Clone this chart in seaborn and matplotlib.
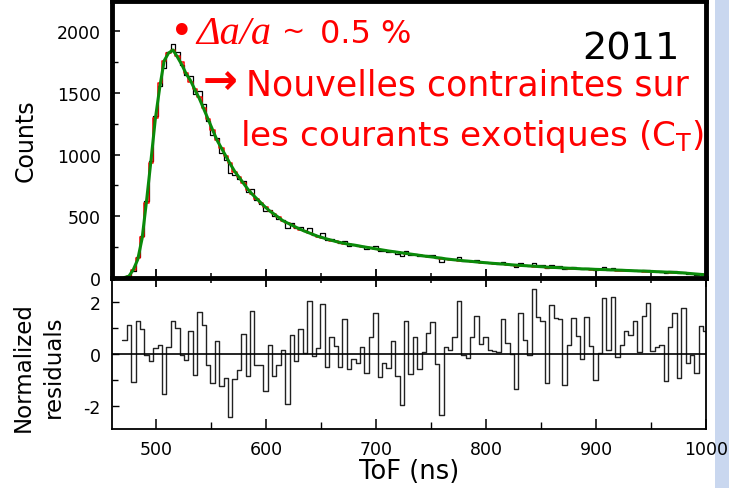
import numpy as np
import pandas as pd
import matplotlib
matplotlib.use("Agg")
import matplotlib.pyplot as plt
import seaborn as sns
from matplotlib.patches import Rectangle
from matplotlib.ticker import MultipleLocator

# ---- data (4 ns bins starting at 469.4 ns) ----
bin_start = 469.4
bin_width = 4.0

counts_data = [
    5, 19, 59, 167, 341, 624, 946, 1309, 1556, 1700,
    1833, 1900, 1833, 1726, 1645, 1635, 1493, 1516, 1410, 1271,
    1163, 1135, 1013, 960, 852, 838, 800, 790, 698, 723,
    633, 598, 539, 550, 499, 481, 467, 405, 443, 405,
    413, 379, 403, 350, 341, 361, 307, 317, 301, 280,
    302, 263, 265, 256, 259, 238, 253, 261, 217, 219,
    211, 221, 197, 176, 217, 183, 198, 176, 180, 185,
    186, 160, 131, 158, 152, 155, 168, 139, 135, 141,
    146, 131, 131, 122, 119, 117, 127, 114, 107, 90,
    118, 105, 98, 120, 107, 103, 77, 103, 98, 95,
    70, 82, 90, 82, 72, 85, 74, 62, 69, 86,
    68, 83, 63, 66, 68, 66, 67, 57, 67, 68,
    54, 53, 52, 41, 54, 55, 38, 52, 36, 35,
    28, 35, 30]

counts_sim = [
    3, 15, 62, 160, 330, 610, 930, 1300, 1580, 1760,
    1820, 1845, 1800, 1750, 1660, 1590, 1530, 1470, 1380, 1290,
    1200, 1120, 1050, 985, 930, 862, 815, 772, 715, 682,
    640, 606, 578, 540, 515, 494, 462, 444, 430, 408,
    392, 380, 362, 352, 335, 325, 318, 303, 296, 286,
    278, 272, 266, 263, 252, 248, 240, 236, 229, 224,
    216, 212, 207, 202, 197, 192, 186, 183, 176, 172,
    167, 163, 158, 153, 149, 145, 141, 137, 135, 131,
    127, 124, 121, 118, 115, 112, 110, 107, 104, 101,
    99, 96, 95, 92, 90, 88, 85, 83, 82, 80,
    78, 76, 75, 73, 72, 70, 68, 67, 66, 64,
    63, 62, 60, 59, 58, 56, 55, 53, 52, 50,
    49, 48, 46, 45, 44, 42, 41, 39, 37, 35,
    33, 31, 28]

fit_curve = [
    4, 15, 68, 150, 322, 625, 950, 1290, 1545, 1760,
    1823, 1848, 1792, 1730, 1655, 1600, 1525, 1455, 1370, 1287,
    1202, 1118, 1054, 990, 926, 866, 818, 770, 721, 680,
    644, 609, 574, 543, 518, 491, 464, 446, 428, 411,
    394, 379, 365, 351, 337, 327, 316, 306, 296, 288,
    280, 273, 268, 262, 255, 249, 243, 237, 231, 225,
    219, 214, 209, 204, 199, 194, 189, 184, 179, 174,
    170, 165, 161, 155, 151, 147, 144, 140, 137, 134,
    130, 127, 124, 121, 118, 116, 113, 110, 107, 104,
    102, 100, 98, 96, 93, 91, 88, 86, 85, 83,
    81, 79, 78, 76, 74, 73, 72, 70, 69, 68,
    67, 65, 64, 63, 61, 60, 58, 57, 56, 54,
    53, 51, 50, 48, 47, 45, 44, 41, 38, 35,
    32, 29, 26]

residuals = [
    0.54, 1.09, -1.10, 1.24, 0.96, -0.05, -0.29, 0.23, 0.32, -1.55,
    0.24, 1.24, 0.99, -0.04, -0.23, 0.87, -0.83, 1.59, 1.09, -0.44,
    -1.12, 0.50, -1.26, -0.94, -2.42, -0.96, -0.64, 0.74, -0.86, 1.64,
    -0.44, -0.45, -1.44, 0.32, -0.85, -0.45, 0.13, -1.92, 0.73, -0.30,
    0.94, 0.02, 2.01, -0.08, 0.22, 1.90, -0.51, 0.63, 0.29, -0.50,
    1.32, -0.58, -0.20, -0.36, 0.24, -0.73, 0.63, 1.56, -0.90, -0.37,
    -0.55, 0.47, -0.86, -1.97, 1.26, -0.78, 0.63, -0.59, 0.06, 0.81,
    1.22, -0.40, -2.38, 0.24, 0.12, 0.64, 2.01, -0.06, -0.17, 0.62,
    1.44, 0.38, 0.62, 0.13, 0.09, 0.06, 1.33, 0.40, 0.00, -1.38,
    1.58, 0.51, -0.04, 2.47, 1.41, 1.24, -1.12, 1.86, 1.38, 1.33,
    -1.19, 0.32, 1.38, 0.68, -0.22, 1.40, 0.28, -1.00, 0.02, 2.15,
    0.15, 2.18, -0.13, 0.35, 0.86, 0.73, 1.24, 0.06, 1.44, 1.95,
    0.09, 0.26, 0.32, -1.05, 1.03, 1.55, -0.94, 1.74, -0.35, -0.04,
    -0.73, 1.05, 0.86]

x_range = (460, 1000)

# ---- tables for seaborn ----
edges = bin_start + bin_width * np.arange(len(counts_data) + 1)
centers = edges[:-1] + bin_width / 2

def step_frame(values, lead_zero=True):
    xs = list(edges)
    ys = list(values) + [values[-1]]
    if lead_zero:
        xs = [x_range[0]] + xs
        ys = [0] + ys
    return pd.DataFrame({"tof": xs, "y": ys})

df_data = step_frame(counts_data)
df_sim = step_frame(counts_sim)
df_fit = pd.DataFrame({"tof": centers, "y": fit_curve})
df_res = step_frame(residuals, lead_zero=False)

# ---- figure ----
sns.set_theme(style="white")
plt.rcParams["font.family"] = ["DejaVu Sans"]
plt.rcParams["axes.unicode_minus"] = False
for key in ["text.color", "axes.labelcolor", "xtick.color", "ytick.color"]:
    plt.rcParams[key] = "black"

W, H = 729, 489
fig = plt.figure(figsize=(W / 100, H / 100), dpi=100)
fig.patch.set_facecolor("white")
fig.patches.append(Rectangle((715 / W, 0), 14 / W, 1, transform=fig.transFigure,
                             facecolor="#c9d7ef", edgecolor="none", zorder=-5))

def fx(px):
    return px / W

def fy(py):
    return 1 - py / H

ax_bot = fig.add_axes([fx(112), fy(430), 594 / W, 150 / H])
ax_top = fig.add_axes([fx(112), fy(279), 594 / W, 277 / H])

# top panel: data, simulation, fit
kw = dict(x="tof", y="y", estimator=None, sort=False, legend=False)
sns.lineplot(data=df_data, ax=ax_top, color="black", lw=0.9, drawstyle="steps-post", **kw)
sns.lineplot(data=df_sim, ax=ax_top, color="#ff0000", lw=1.1, drawstyle="steps-post", **kw)
sns.lineplot(data=df_fit, ax=ax_top, color="#0a8a0a", lw=2.2, **kw)

ax_top.set_xlim(*x_range)
ax_top.set_ylim(0, 2245)
ax_top.set_xlabel("")
ax_top.set_ylabel("Counts", fontsize=17)
ax_top.yaxis.set_label_coords(-0.125, 0.5)
ax_top.set_yticks([0, 500, 1000, 1500, 2000])
ax_top.yaxis.set_minor_locator(MultipleLocator(250))
ax_top.xaxis.set_major_locator(MultipleLocator(100))
ax_top.xaxis.set_minor_locator(MultipleLocator(50))
ax_top.tick_params(axis="x", which="major", direction="inout", length=13, width=1.3,
                   labelbottom=False, bottom=True)
ax_top.tick_params(axis="x", which="minor", direction="inout", length=7, width=1.1, bottom=True)
ax_top.tick_params(axis="y", which="major", direction="in", length=6, width=1.1,
                   labelsize=12.5, pad=8, left=True)
ax_top.tick_params(axis="y", which="minor", direction="in", length=4, width=1.0, left=True)
for s in ax_top.spines.values():
    s.set_visible(True)
    s.set_color("black")
    s.set_linewidth(3.5)
ax_top.set_facecolor("white")

# bottom panel: normalized residuals
sns.lineplot(data=df_res, ax=ax_bot, color="#222222", lw=1.0, drawstyle="steps-post", **kw)
ax_bot.axhline(0, color="black", lw=1.2)
ax_bot.set_xlim(*x_range)
ax_bot.set_ylim(-2.9, 2.87)
ax_bot.set_yticks([-2, 0, 2])
ax_bot.yaxis.set_minor_locator(MultipleLocator(1))
ax_bot.xaxis.set_major_locator(MultipleLocator(100))
ax_bot.xaxis.set_minor_locator(MultipleLocator(50))
ax_bot.tick_params(axis="x", which="major", direction="in", length=7, width=1.1,
                   labelsize=12.5, pad=8, bottom=True)
ax_bot.tick_params(axis="x", which="minor", direction="in", length=5, width=1.0, bottom=True)
ax_bot.tick_params(axis="y", which="major", direction="in", length=5, width=1.0,
                   labelsize=12.5, pad=8, left=True)
ax_bot.tick_params(axis="y", which="minor", direction="in", length=4, width=1.0, left=True)
ax_bot.set_xlabel("ToF (ns)", fontsize=18.5, labelpad=0)
ax_bot.set_ylabel("Normalized\nresiduals", fontsize=16.5, linespacing=1.35)
ax_bot.yaxis.set_label_coords(-0.08, 0.42)
for s in ax_bot.spines.values():
    s.set_visible(True)
    s.set_color("black")
    s.set_linewidth(1.3)

# annotations
red = "#ff0000"
fig.text(fx(170), fy(44), "\u2022", color=red, fontsize=29, va="baseline")
fig.text(fx(196), fy(44), "\u0394a/a", color=red, fontsize=29, va="baseline",
         family=["Liberation Serif"], style="italic")
fig.text(fx(282), fy(40), "~", color=red, fontsize=20, va="baseline")
fig.text(fx(320), fy(43), "0.5 %", color=red, fontsize=23, va="baseline")
fig.text(fx(582), fy(60), "2011", color="black", fontsize=27.5, va="baseline")
fig.text(fx(203), fy(94), "\u2192", color=red, fontsize=30, va="baseline", weight="bold")
fig.text(fx(246), fy(95), "Nouvelles contraintes sur", color=red, fontsize=25, va="baseline")
fig.text(fx(240), fy(146), r"les courants exotiques (C$_\mathrm{T}$)", color=red,
         fontsize=24.7, va="baseline")

fig.savefig("out.png", dpi=100)
